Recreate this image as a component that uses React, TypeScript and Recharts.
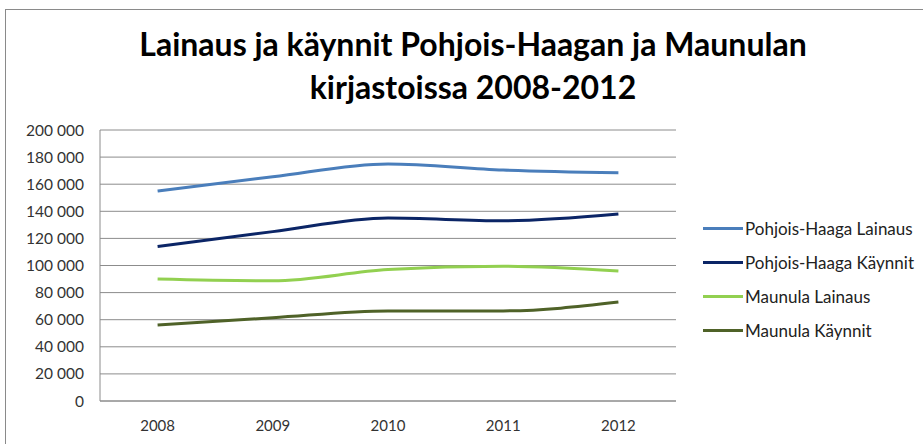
import React from 'react';
import { LineChart, Line, XAxis, YAxis, CartesianGrid } from 'recharts';

const years = ['2008', '2009', '2010', '2011', '2012'];
const haagaLainaus = [155000, 165500, 175000, 170500, 168500];
const haagaKaynnit = [114000, 125000, 135000, 133000, 138000];
const maunulaLainaus = [90000, 88700, 97000, 99500, 96000];
const maunulaKaynnit = [56000, 61500, 66500, 66500, 73000];
const yTicks = [0, 20000, 40000, 60000, 80000, 100000, 120000, 140000, 160000, 180000, 200000];

const series = [
  { key: 'haagaLainaus', name: 'Pohjois-Haaga Lainaus', color: '#4a7ebb' },
  { key: 'haagaKaynnit', name: 'Pohjois-Haaga Käynnit', color: '#0b2566' },
  { key: 'maunulaLainaus', name: 'Maunula Lainaus', color: '#92d050' },
  { key: 'maunulaKaynnit', name: 'Maunula Käynnit', color: '#4f6228' },
];

const data = years.map((year, i) => ({
  year,
  haagaLainaus: haagaLainaus[i],
  haagaKaynnit: haagaKaynnit[i],
  maunulaLainaus: maunulaLainaus[i],
  maunulaKaynnit: maunulaKaynnit[i],
}));

const fmt = (v: number) => String(v).replace(/\B(?=(\d{3})+(?!\d))/g, ' ');

const font = 'Lato, "Open Sans", sans-serif';

export default function App() {
  return (
    <div style={{ position: 'absolute', left: 0, top: 0, width: 923, height: 444, overflow: 'hidden', background: '#fff' }}>
      <div style={{ position: 'absolute', left: 5, top: 9, width: 940, height: 460, border: '1px solid #8a8a8a' }} />
      <div
        style={{
          position: 'absolute',
          left: 0,
          top: 22,
          width: 946,
          textAlign: 'center',
          fontFamily: font,
          fontWeight: 700,
          fontSize: 32,
          lineHeight: '43px',
          color: '#000',
        }}
      >
        <div>Lainaus ja käynnit Pohjois-Haagan ja Maunulan</div>
        <div>kirjastoissa 2008-2012</div>
      </div>
      <div style={{ position: 'absolute', left: 0, top: 0 }}>
        <LineChart width={923} height={444} data={data} margin={{ top: 130, right: 247, left: 0, bottom: 13 }}>
          <CartesianGrid vertical={false} stroke="#8c8c8c" />
          <XAxis
            dataKey="year"
            tickLine={false}
            axisLine={{ stroke: '#8c8c8c' }}
            height={30}
            padding={{ left: 57.6, right: 57.6 }}
            tickMargin={13}
            tick={{ fontSize: 15, fill: '#333', fontFamily: font }}
          />
          <YAxis
            domain={[0, 200000]}
            ticks={yTicks}
            interval={0}
            width={100}
            tickLine={false}
            axisLine={{ stroke: '#8c8c8c' }}
            tickMargin={10}
            tickFormatter={fmt}
            tick={{ fontSize: 15.5, fill: '#333', fontFamily: font }}
          />
          {series.map((s) => (
            <Line
              key={s.key}
              type="monotone"
              dataKey={s.key}
              name={s.name}
              stroke={s.color}
              strokeWidth={3}
              dot={false}
              isAnimationActive={false}
            />
          ))}
        </LineChart>
      </div>
      <div style={{ position: 'absolute', left: 703, top: 211, fontFamily: font, fontSize: 17, color: '#222' }}>
        {series.map((s) => (
          <div key={s.key} style={{ display: 'flex', alignItems: 'center', height: 34, whiteSpace: 'nowrap' }}>
            <div style={{ width: 40, height: 3, background: s.color, marginRight: 2 }} />
            <span>{s.name}</span>
          </div>
        ))}
      </div>
    </div>
  );
}
